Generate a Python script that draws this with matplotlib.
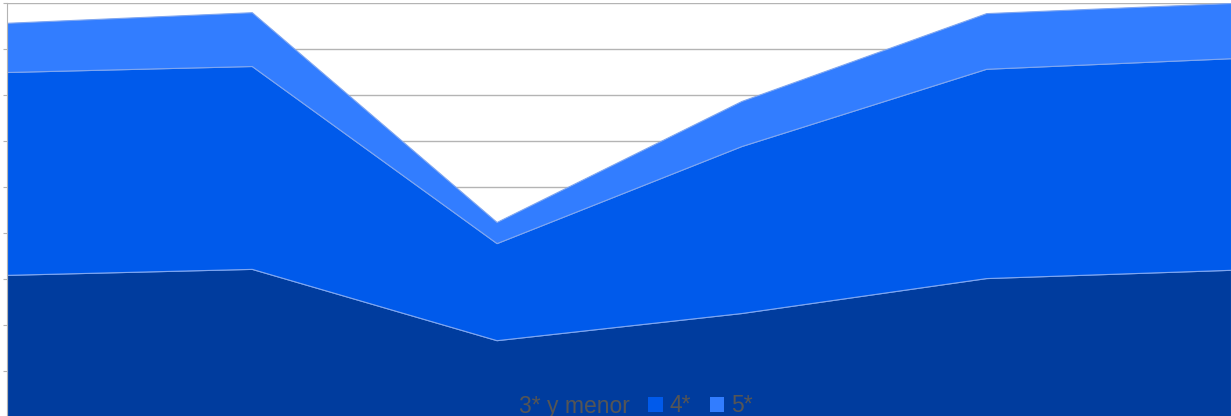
import numpy as np
import matplotlib.pyplot as plt
from matplotlib.patches import Patch

periods = [0, 1, 2, 3, 4, 5]
tres_y_menor = [3.09, 3.22, 1.67, 2.26, 3.02, 3.20]
cuatro = [4.41, 4.41, 2.11, 3.63, 4.55, 4.60]
cinco = [1.07, 1.17, 0.46, 0.98, 1.21, 1.20]
labels = ['3* y menor', '4*', '5*']
colors = ['#003c9e', '#005aeb', '#327dff']

fig = plt.figure(figsize=(12.31, 4.16), dpi=100)
ax = fig.add_axes([7 / 1231, -1 / 416, 1 - 7 / 1231, 1 - 3 / 416 + 1 / 416])

ax.stackplot(periods, tres_y_menor, cuatro, cinco, colors=colors,
             edgecolor='#7fa6f0', linewidth=0.8, zorder=2)

ax.set_xlim(0, 5)
ax.set_ylim(0, 9)
ax.set_yticks(np.arange(0, 10, 1))
ax.yaxis.grid(True, color='#b4b4b4', linewidth=1, zorder=0)
ax.set_axisbelow(True)
ax.set_xticks([])
ax.tick_params(axis='y', length=3, color='#b4b4b4', labelleft=False)
for side in ['top', 'right', 'bottom']:
    ax.spines[side].set_visible(False)
ax.spines['left'].set_color('#b4b4b4')

handles = [Patch(facecolor=c, edgecolor='none') for c in colors]
fig.legend(handles, labels, loc='center', bbox_to_anchor=(625 / 1231, 10 / 416),
           ncol=3, frameon=False, labelcolor='#555555',
           handlelength=0.65, handleheight=0.65, handletextpad=0.3,
           columnspacing=0.8, prop={'family': 'Liberation Sans', 'size': 16.5})

fig.savefig('out.png', dpi=100)
